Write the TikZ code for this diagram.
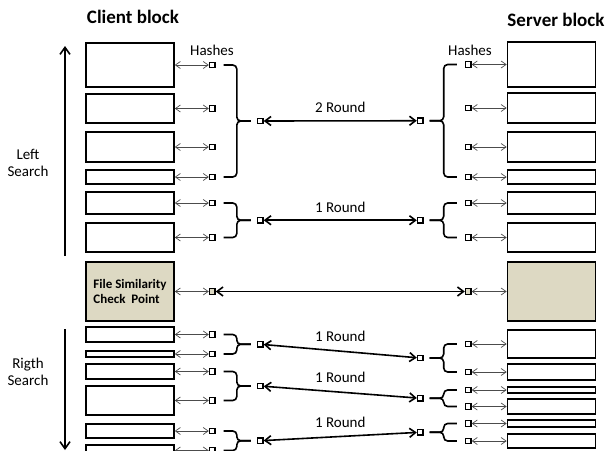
\documentclass[tikz,border=0pt]{standalone}
\usepackage{fontspec}
\setmainfont{Carlito}
\usetikzlibrary{positioning, arrows.meta, calc}

\definecolor{tanfill}{RGB}{221,217,195}

\begin{document}
\begin{tikzpicture}[
  x=1pt, y=-1pt,
  font=\fontsize{15}{17}\selectfont,
  blk/.style={rectangle, draw=black, line width=1.6pt, fill=white, minimum width=88pt, inner sep=0pt},
  hash/.style={rectangle, draw=black, line width=1.4pt, fill=white, minimum size=5.5pt, inner sep=0pt},
  link/.style={draw=black!70, line width=0.7pt, {Straight Barb[length=5pt,width=7pt]}-{Straight Barb[length=5pt,width=7pt]}},
  roundarr/.style={draw, line width=1.6pt, {Straight Barb[length=6pt,width=9pt]}-{Straight Barb[length=6pt,width=9pt]}},
  brc/.style={draw, line width=1.6pt, rounded corners=4pt},
  searcharr/.style={draw, line width=1.6pt, -{Straight Barb[length=7pt,width=10pt]}},
  blocktitle/.style={font=\fontsize{19}{22}\selectfont\bfseries}
]
  \useasboundingbox (0,0) rectangle (607,450);

  % titles
  \node[blocktitle] (ctitle) at (133,17) {Client block};
  \node[blocktitle] (stitle) at (556,20) {Server block};
  \node (chash) at (212,50) {Hashes};
  \node (shash) at (470,50) {Hashes};

  % client blocks and their hashes
  \foreach \n/\t/\b in {1/43/87, 2/94/123, 3/132/162, 4/170/184, 5/192/214, 6/223/252,
                        7/327/342, 8/351/357, 9/364/379, 10/386/415, 11/424/438, 12/445/456} {
    \node[blk, minimum height={(\b-\t)*1pt}] (c\n) at (130,{(\t+\b)/2}) {};
    \node[hash, right=34pt of c\n] (hc\n) {};
    \draw[link] (c\n) -- (hc\n);
  }

  % server blocks and their hashes
  \foreach \n/\t/\b in {1/42/87, 2/93/123, 3/132/162, 4/170/184, 5/192/214, 6/223/252,
                        7/330/358, 8/364/380, 9/387/393, 10/399/414, 11/420/427, 12/434/448} {
    \node[blk, minimum height={(\b-\t)*1pt}] (s\n) at (551.5,{(\t+\b)/2}) {};
    \node[hash, left=35pt of s\n] (hs\n) {};
    \draw[link] (hs\n) -- (s\n);
  }

  % check point
  \node[blk, fill=tanfill, minimum height=59pt, align=left,
        font=\fontsize{13}{15.5}\selectfont\bfseries] (cc) at (130,291.5) {File Similarity\\Check\ \ Point};
  \node[blk, fill=tanfill, minimum height=59pt] (sc) at (551.5,291.5) {};
  \node[hash, fill=tanfill, right=34pt of cc] (hcc) {};
  \node[hash, fill=tanfill, left=35pt of sc] (hsc) {};
  \draw[link] (cc) -- (hcc);
  \draw[link] (hsc) -- (sc);
  \draw[roundarr] (hcc) -- (hsc);

  % rounds: braces on both sides
  \foreach \r/\a/\b in {1/1/4, 2/5/6, 3/7/8, 4/9/10, 5/11/12} {
    \node[hash] (rc\r) at ($(hc\a)!0.5!(hc\b)+(48,0)$) {};
    \node[hash] (rs\r) at ($(hs\a)!0.5!(hs\b)+(-48,0)$) {};
    \draw[brc] ([xshift=8pt]hc\a.east) -| ([xshift=-20pt]rc\r.west) -- ([xshift=-6pt]rc\r.west);
    \draw[brc] ([xshift=8pt]hc\b.east) -| ([xshift=-20pt]rc\r.west) -- ([xshift=-6pt]rc\r.west);
    \draw[brc] ([xshift=-8pt]hs\a.west) -| ([xshift=20pt]rs\r.east) -- ([xshift=6pt]rs\r.east);
    \draw[brc] ([xshift=-8pt]hs\b.west) -| ([xshift=20pt]rs\r.east) -- ([xshift=6pt]rs\r.east);
  }

  \draw[roundarr] (rc1) -- node[above=4pt] {2 Round} (rs1);
  \draw[roundarr] (rc2) -- node[above=4pt] {1 Round} (rs2);
  \draw[roundarr] (rc3) -- node[above=5pt] {1 Round} (rs3);
  \draw[roundarr] (rc4) -- node[above=5pt] {1 Round} (rs4);
  \draw[roundarr] (rc5) -- node[above=5pt] {1 Round} (rs5);

  % search directions
  \coordinate (lsbot) at (65,256);
  \coordinate (lstop) at (65,46);
  \coordinate (rstop) at (65,329);
  \coordinate (rsbot) at (65,450);
  \draw[searcharr] (lsbot) -- (lstop);
  \draw[searcharr] (rstop) -- (rsbot);
  \node[align=center] (lsearch) at (28,163) {Left\\Search};
  \node[align=center] (rsearch) at (28,372) {Rigth\\Search};
\end{tikzpicture}
\end{document}
